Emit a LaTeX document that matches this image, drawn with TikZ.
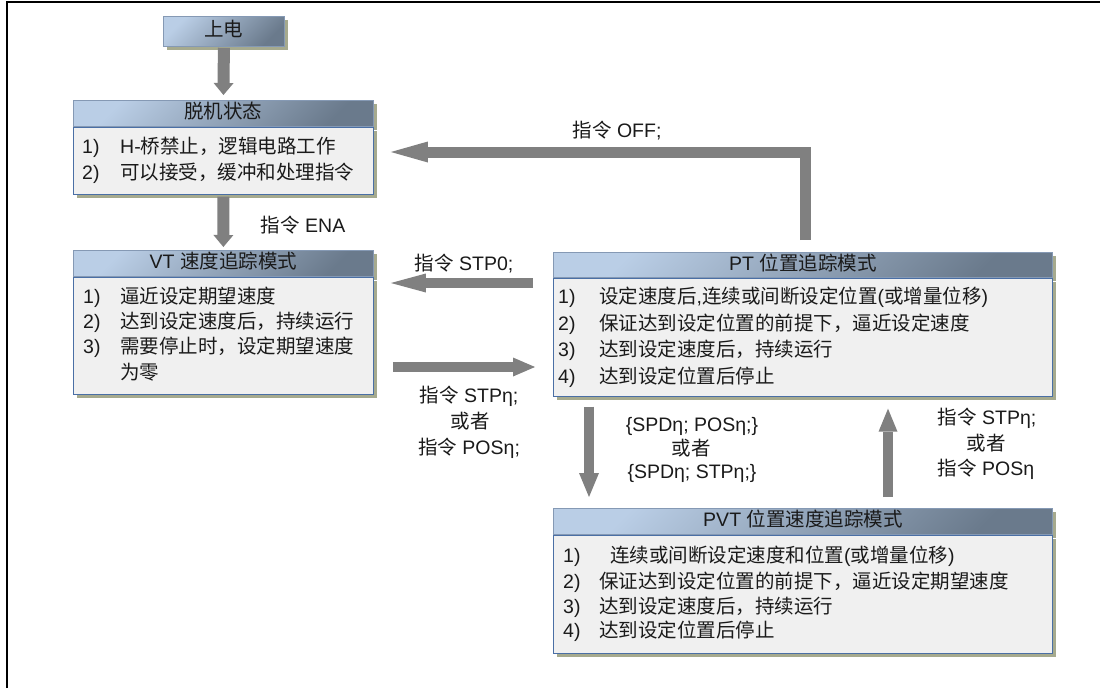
\documentclass[tikz,border=0pt]{standalone}
\usepackage{fontspec}
\setmainfont{Liberation Sans}
\newfontfamily\cjkf{Noto Sans CJK SC}
\newcommand\zhtxt[1]{{\cjkf #1}}
\usetikzlibrary{arrows.meta,shadows,calc}
\definecolor{hdrL}{HTML}{BACEE6}
\definecolor{hdrR}{HTML}{6A7A8C}
\definecolor{hdrBorder}{HTML}{8599B4}
\definecolor{bodyFill}{HTML}{F0F0F0}
\definecolor{bodyBorder}{HTML}{4A6FA5}
\definecolor{shadowC}{HTML}{A6AA8E}
\definecolor{arrowC}{HTML}{808080}
\definecolor{txtC}{HTML}{1A1A1A}
\begin{document}
\begin{tikzpicture}[x=1pt,y=-1pt,
  txt/.style={font=\fontsize{19.5}{24}\selectfont, text=txtC, inner sep=0pt, text height=17.2pt, text depth=2.4pt},
  ln/.style={txt, anchor=west},
  lbl/.style={txt, anchor=center},
  boxshadow/.style={drop shadow={shadow xshift=4pt, shadow yshift=-4pt, fill=shadowC, opacity=1}},
  hdr/.style={txt, anchor=north west, text height=17pt, text depth=6pt,
    top color=hdrL, bottom color=hdrR, shading angle=45,
    draw=hdrBorder, line width=0.8pt, boxshadow},
  bodybox/.style={anchor=north west, inner sep=0pt, fill=bodyFill, draw=bodyBorder, line width=0.9pt, boxshadow},
  blockarrow/.style n args={3}{draw=arrowC, line width=#1, line join=miter,
    -{Triangle[length=#2, width=#3, line width=0pt]}}
]
\useasboundingbox (0,0) rectangle (1100,688);
\fill[white] (0,0) rectangle (1100,688);
% frame
\draw[line width=2.2pt, black] (7,688) -- (7,1.6) -- (1100,1.6);

% power on
\node[hdr, minimum width=121pt, minimum height=30pt] (pon) at (163,16) {\zhtxt{上电}};

% offline
\node[hdr, minimum width=300pt, minimum height=26pt] (offh) at (73,100) {\zhtxt{脱机状态}};
\node[bodybox, minimum width=300pt, minimum height=67pt] (offb) at (offh.south west) {};
\node[ln] (off1) at (82,146) {\makebox[38pt][l]{1)}H-\zhtxt{桥禁止，逻辑电路工作}};
\node[ln] (off2) at (82,172) {\makebox[38pt][l]{2)}\zhtxt{可以接受，缓冲和处理指令}};

% VT
\node[hdr, minimum width=300pt, minimum height=26pt] (vth) at (73,250) {VT \zhtxt{速度追踪模式}};
\node[bodybox, minimum width=300pt, minimum height=117pt] (vtb) at (vth.south west) {};
\node[ln] (vt1) at (83,296) {\makebox[37pt][l]{1)}\zhtxt{逼近设定期望速度}};
\node[ln] (vt2) at (83,321.5) {\makebox[37pt][l]{2)}\zhtxt{达到设定速度后，持续运行}};
\node[ln] (vt3) at (83,346.5) {\makebox[37pt][l]{3)}\zhtxt{需要停止时，设定期望速度}};
\node[ln] (vt4) at (120,372) {\zhtxt{为零}};

% PT
\node[hdr, minimum width=499pt, minimum height=25pt] (pth) at (553,252) {PT \zhtxt{位置追踪模式}};
\node[bodybox, minimum width=499pt, minimum height=118pt] (ptb) at (pth.south west) {};
\node[ln] (pt1) at (558,296) {\makebox[41pt][l]{1)}\zhtxt{设定速度后},\zhtxt{连续或间断设定位置}(\zhtxt{或增量位移})};
\node[ln] (pt2) at (558,322.8) {\makebox[41pt][l]{2)}\zhtxt{保证达到设定位置的前提下，逼近设定速度}};
\node[ln] (pt3) at (558,349.5) {\makebox[41pt][l]{3)}\zhtxt{达到设定速度后，持续运行}};
\node[ln] (pt4) at (558,376) {\makebox[41pt][l]{4)}\zhtxt{达到设定位置后停止}};

% PVT
\node[hdr, minimum width=499pt, minimum height=26pt] (pvth) at (553,508) {PVT \zhtxt{位置速度追踪模式}};
\node[bodybox, minimum width=499pt, minimum height=118pt] (pvtb) at (pvth.south west) {};
\node[ln] (pvt1) at (563,555) {\makebox[47pt][l]{1)}\zhtxt{连续或间断设定速度和位置}(\zhtxt{或增量位移})};
\node[ln] (pvt2) at (563,581.5) {\makebox[36pt][l]{2)}\zhtxt{保证达到设定位置的前提下，逼近设定期望速度}};
\node[ln] (pvt3) at (563,605.7) {\makebox[36pt][l]{3)}\zhtxt{达到设定速度后，持续运行}};
\node[ln] (pvt4) at (563,630.3) {\makebox[36pt][l]{4)}\zhtxt{达到设定位置后停止}};

% helper coordinates
\coordinate (offturn) at (805,152);
\coordinate (yStpZero) at (0,283);
\coordinate (yStpEta) at (0,367);
\coordinate (xDown) at (589,0);
\coordinate (xUp) at (888,0);

% connectors
\draw[blockarrow={12pt}{12pt}{20pt}, shorten <=1pt, shorten >=5pt] (pon.south) -- (offh.north);
\draw[blockarrow={12pt}{12pt}{20pt}, shorten <=2pt, shorten >=3pt] (offb.south) -- (vth.north);
\draw[blockarrow={11pt}{37pt}{21pt}, shorten <=12pt, shorten >=17pt] (pth.north -| offturn) -- (offturn) -- (offb.east |- offturn);
\draw[blockarrow={10pt}{35pt}{19pt}, shorten <=20pt, shorten >=17pt] (ptb.west |- yStpZero) -- (vtb.east |- yStpZero);
\draw[blockarrow={10pt}{22pt}{19pt}, shorten <=19pt, shorten >=18pt] (vtb.east |- yStpEta) -- (ptb.west |- yStpEta);
\draw[blockarrow={10pt}{24pt}{20pt}, shorten <=10pt, shorten >=11pt] (xDown |- ptb.south) -- (xDown |- pvth.north);
\draw[blockarrow={10pt}{23pt}{19pt}, shorten <=11pt, shorten >=12pt] (xUp |- pvth.north) -- (xUp |- ptb.south);

% labels
\node[lbl] (lEna) at (303,225) {\zhtxt{指令} ENA};
\node[lbl] (lOff) at (617,130) {\zhtxt{指令} OFF;};
\node[lbl] (lStpZero) at (464,263) {\zhtxt{指令} STP0;};
\node[lbl] (lL1) at (469,395) {\zhtxt{指令} STPη;};
\node[lbl] (lL2) at (470,421) {\zhtxt{或者}};
\node[lbl] (lL3) at (469,447) {\zhtxt{指令} POSη;};
\node[lbl] (lM1) at (692,424) {\{SPDη; POSη;\}};
\node[lbl] (lM2) at (691,448) {\zhtxt{或者}};
\node[lbl] (lM3) at (692,471) {\{SPDη; STPη;\}};
\node[lbl] (lR1) at (987,417) {\zhtxt{指令} STPη;};
\node[lbl] (lR2) at (986,443) {\zhtxt{或者}};
\node[lbl] (lR3) at (986,468) {\zhtxt{指令} POSη};
\end{tikzpicture}
\end{document}
